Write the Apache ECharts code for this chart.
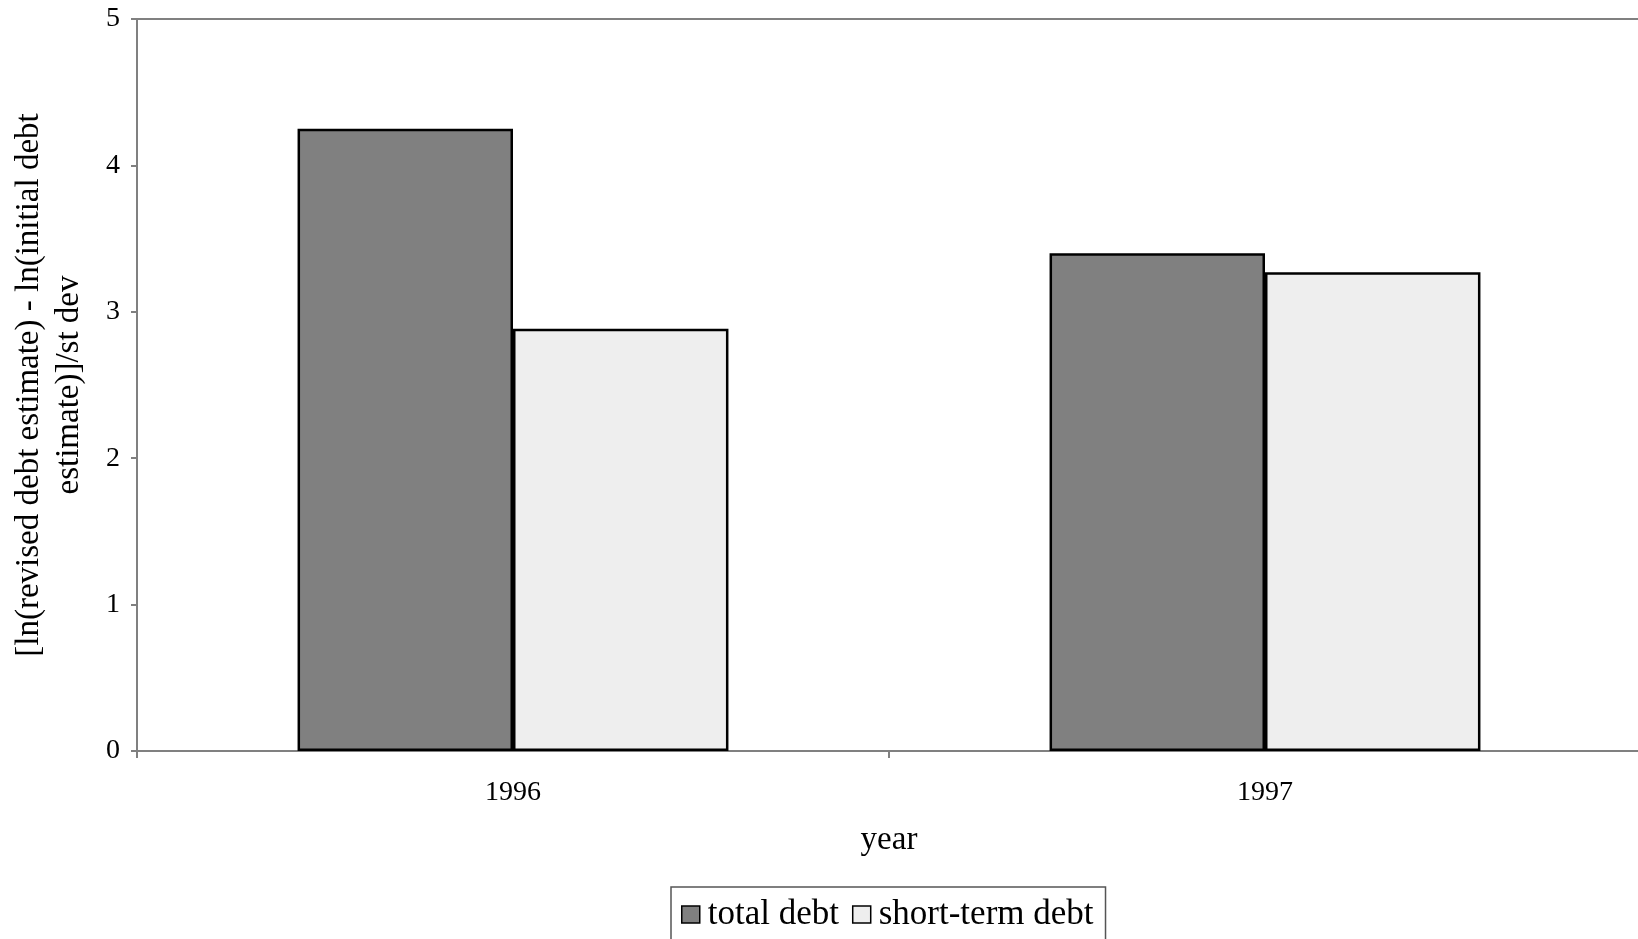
<!DOCTYPE html>
<html>
<head>
<meta charset="utf-8">
<title>Debt estimate revisions</title>
<script src="https://cdn.jsdelivr.net/npm/echarts@6/dist/echarts.min.js"></script>
<style>
  html, body { margin: 0; padding: 0; background: #ffffff; }
  #chart { width: 1638px; height: 939px; }
</style>
</head>
<body>
<div id="chart"></div>
<script>
// Categories and series values
const years = ['1996', '1997'];
const totalDebt = [4.25, 3.40];
const shortTermDebt = [2.885, 3.27];
const yTicks = [0, 1, 2, 3, 4, 5];

const seriesNames = ['total debt', 'short-term debt'];
const seriesColors = ['#808080', '#eeeeee'];

const serif = '"Liberation Serif", "Times New Roman", serif';

const chart = echarts.init(document.getElementById('chart'), null, { renderer: 'canvas' });

chart.setOption({
  backgroundColor: '#ffffff',
  animation: false,
  textStyle: { fontFamily: serif, color: '#000000' },
  grid: {
    left: 137, right: -3, top: 19, bottom: 188,
    show: true,
    borderColor: '#808080',
    borderWidth: 2,
    backgroundColor: '#ffffff',
    containLabel: false,
    outerBoundsMode: 'none'
  },
  legend: {
    data: seriesNames,
    left: 671,
    top: 887,
    orient: 'horizontal',
    padding: [10, 12, 16, 10],
    itemGap: 13,
    itemWidth: 18,
    itemHeight: 17,
    borderColor: '#555555',
    borderWidth: 1.5,
    backgroundColor: '#ffffff',
    icon: 'rect',
    textStyle: { fontFamily: serif, fontSize: 35, color: '#000000', padding: [0, 0, 0, 3] },
    itemStyle: { borderColor: '#000000', borderWidth: 1.5 }
  },
  xAxis: {
    type: 'category',
    data: years,
    name: 'year',
    nameLocation: 'middle',
    nameGap: 73,
    nameTextStyle: { fontFamily: serif, fontSize: 33, color: '#000000' },
    axisLine: { show: true, lineStyle: { color: '#808080', width: 2 } },
    axisTick: { show: true, length: 7, lineStyle: { color: '#808080', width: 2 } },
    axisLabel: { fontFamily: serif, fontSize: 28, color: '#000000', margin: 28 },
    splitLine: { show: false }
  },
  yAxis: {
    type: 'value',
    min: yTicks[0],
    max: yTicks[yTicks.length - 1],
    interval: 1,
    name: '[ln(revised debt estimate) - ln(initial debt\nestimate)]/st dev',
    nameLocation: 'middle',
    nameGap: 48,
    nameRotate: 90,
    nameTextStyle: { fontFamily: serif, fontSize: 33, lineHeight: 40, color: '#000000', align: 'center' },
    axisLine: { show: true, lineStyle: { color: '#808080', width: 2 } },
    axisTick: { show: true, length: 6, lineStyle: { color: '#808080', width: 2 } },
    axisLabel: { fontFamily: serif, fontSize: 28, color: '#000000', margin: 17 },
    splitLine: { show: false }
  },
  series: [
    {
      name: seriesNames[0],
      type: 'bar',
      data: totalDebt,
      barGap: '0%',
      barCategoryGap: '42.7%',
      itemStyle: { color: seriesColors[0], borderColor: '#000000', borderWidth: 2.5 }
    },
    {
      name: seriesNames[1],
      type: 'bar',
      data: shortTermDebt,
      barGap: '0%',
      barCategoryGap: '42.7%',
      itemStyle: { color: seriesColors[1], borderColor: '#000000', borderWidth: 2.5 }
    }
  ]
});
</script>
</body>
</html>
